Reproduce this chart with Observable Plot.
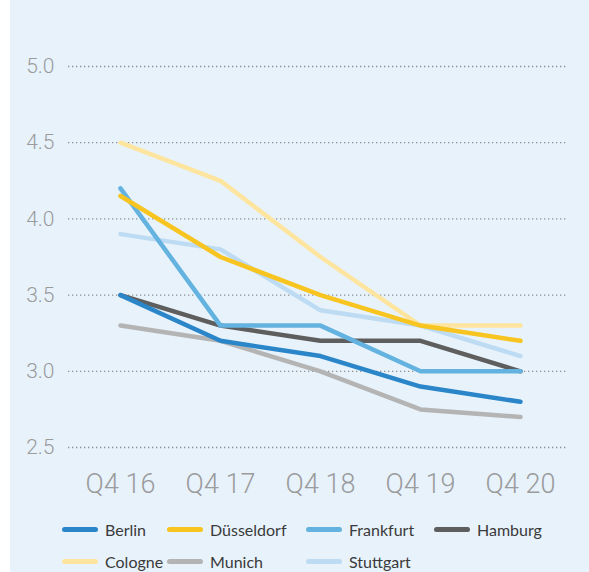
<!DOCTYPE html>
<html>
<head>
<meta charset="utf-8">
<script src="https://cdn.jsdelivr.net/npm/d3@7"></script>
<script src="https://cdn.jsdelivr.net/npm/@observablehq/plot@0.6"></script>
<style>
  html, body { margin: 0; padding: 0; }
  body { width: 589px; height: 572px; overflow: hidden; background: linear-gradient(to right, #ffffff 10px, #e7f2fb 10px); position: relative; }
  #chart { position: absolute; left: 0; top: 0; }
  #chart svg { background: transparent; }
  #legend { position: absolute; left: 62px; top: 513px; display: grid; grid-template-columns: 105px 139px 128px auto; grid-auto-rows: 32px; font-family: Lato, "Noto Sans", sans-serif; font-size: 16px; color: #3a3a3a; }
  .item { display: flex; align-items: center; }
  .sw { width: 36px; height: 5px; border-radius: 3px; margin-right: 7px; flex: none; }
</style>
</head>
<body>
<div id="chart"></div>
<div id="legend"></div>
<script>
const quarters = ["Q4 16", "Q4 17", "Q4 18", "Q4 19", "Q4 20"];
const yTicks = [2.5, 3.0, 3.5, 4.0, 4.5, 5.0];

// drawing order (bottom to top)
const cities = ["Cologne", "Munich", "Stuttgart", "Hamburg", "Frankfurt", "Berlin", "Düsseldorf"];
const cityColors = ["#fde59f", "#b4b4b4", "#bddbf2", "#5e5e5e", "#63b2e0", "#2a86c8", "#f8c420"];
const legendOrder = ["Berlin", "Düsseldorf", "Frankfurt", "Hamburg", "Cologne", "Munich", "Stuttgart"];

const cologne    = [4.5, 4.25, 3.75, 3.3, 3.3];
const munich     = [3.3, 3.2, 3.0, 2.75, 2.7];
const stuttgart  = [3.9, 3.8, 3.4, 3.3, 3.1];
const hamburg    = [3.5, 3.3, 3.2, 3.2, 3.0];
const frankfurt  = [4.2, 3.3, 3.3, 3.0, 3.0];
const berlin     = [3.5, 3.2, 3.1, 2.9, 2.8];
const duesseldorf = [4.15, 3.75, 3.5, 3.3, 3.2];

const series = [cologne, munich, stuttgart, hamburg, frankfurt, berlin, duesseldorf];
const data = cities.flatMap((c, i) => quarters.map((q, j) => ({city: c, q, v: series[i][j]})));

const plot = Plot.plot({
  width: 589,
  height: 505,
  marginLeft: 68,
  marginRight: 21,
  marginTop: 66,
  marginBottom: 58,
  style: {fontFamily: "Roboto, 'Open Sans', sans-serif", background: "transparent"},
  x: {type: "point", domain: quarters, padding: 0, insetLeft: 51, insetRight: 48},
  y: {domain: [2.5, 5.0]},
  color: {domain: cities, range: cityColors},
  marks: [
    Plot.gridY(yTicks, {stroke: "#8f8f8f", strokeOpacity: 1, strokeWidth: 1.3, strokeDasharray: "1.3,2.7"}),
    Plot.axisY(yTicks, {tickSize: 0, tickPadding: 14, fontSize: 21, fill: "#9b9b9b", fontWeight: 300, tickFormat: d3.format(".1f"), label: null}),
    Plot.axisX({tickSize: 0, tickPadding: 26, fontSize: 27, fill: "#9b9b9b", fontWeight: 300, label: null}),
    Plot.line(data, {x: "q", y: "v", z: "city", stroke: "city", strokeWidth: 4.5, strokeLinecap: "round", strokeLinejoin: "round"})
  ]
});
document.getElementById("chart").appendChild(plot);

const legend = document.getElementById("legend");
legendOrder.forEach(c => {
  const it = document.createElement("div");
  it.className = "item";
  const sw = document.createElement("span");
  sw.className = "sw";
  sw.style.background = cityColors[cities.indexOf(c)];
  const t = document.createElement("span");
  t.textContent = c;
  it.appendChild(sw);
  it.appendChild(t);
  legend.appendChild(it);
});
</script>
</body>
</html>
